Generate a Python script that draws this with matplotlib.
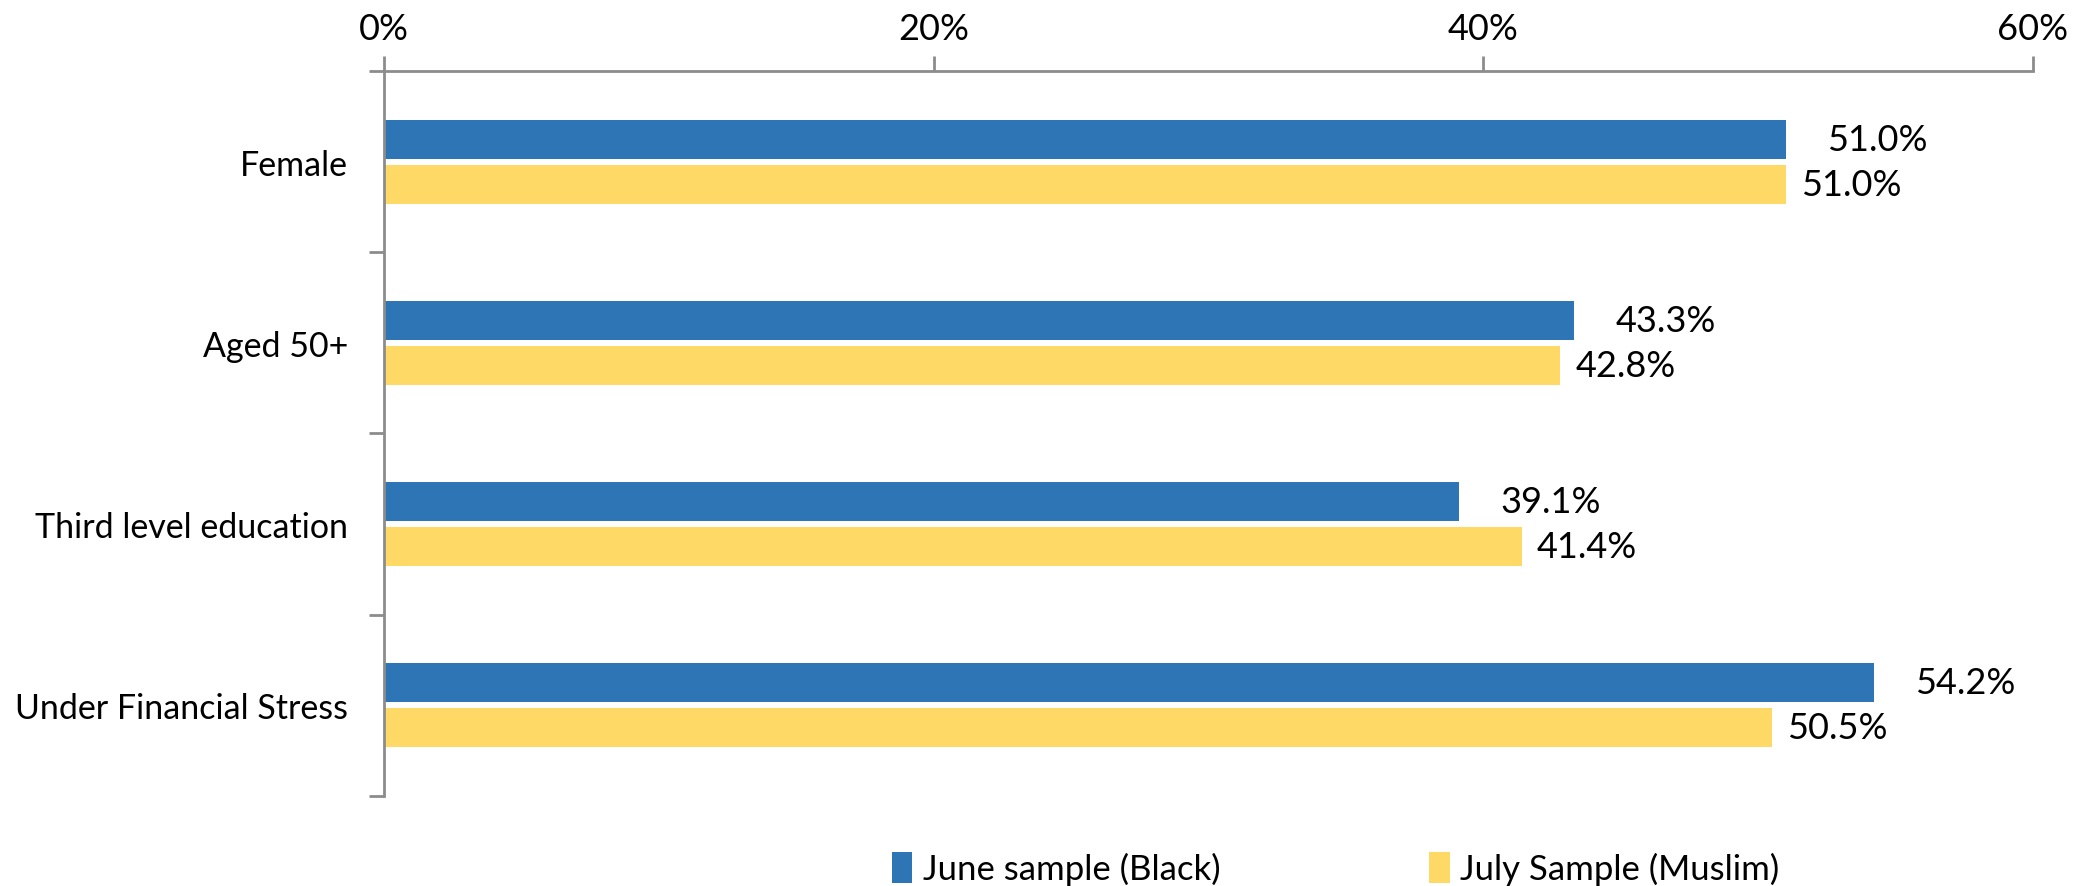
import numpy as np
import matplotlib.pyplot as plt
from matplotlib.ticker import PercentFormatter

categories = ["Female", "Aged 50+", "Third level education", "Under Financial Stress"]
june_black = [51.0, 43.3, 39.1, 54.2]
july_muslim = [51.0, 42.8, 41.4, 50.5]
series_names = ["June sample (Black)", "July Sample (Muslim)"]
x_ticks = [0, 20, 40, 60]

BLUE = "#2E75B6"
YELLOW = "#FFD966"
GREY = "#8C8C8C"

plt.rcParams["font.family"] = ["Lato", "DejaVu Sans"]

fig = plt.figure(figsize=(20.77, 8.87), dpi=100)
ax = fig.add_axes([0.1849, 0.1015, 0.7939, 0.8173])

y = np.arange(len(categories))
h = 0.215
off = 0.124
b1 = ax.barh(y - off, june_black, height=h, color=BLUE, label=series_names[0])
b2 = ax.barh(y + off, july_muslim, height=h, color=YELLOW, label=series_names[1])

for yy, v in zip(y - off, june_black):
    ax.annotate(f"{v:.1f}%", (v, yy), xytext=(30, 0), textcoords="offset points",
                va="center", ha="left", fontsize=26)
for yy, v in zip(y + off, july_muslim):
    ax.annotate(f"{v:.1f}%", (v, yy), xytext=(11, 0), textcoords="offset points",
                va="center", ha="left", fontsize=26)

ax.set_xlim(0, 60)
ax.set_ylim(len(categories) - 0.5, -0.5)
ax.set_xticks(x_ticks)
ax.xaxis.set_major_formatter(PercentFormatter(decimals=0))
ax.xaxis.tick_top()

# category labels sit at the centre, tick marks between categories
ax.set_yticks(np.arange(len(categories) + 1) - 0.5)
ax.set_yticklabels([])
ax.set_yticks(y, minor=True)
ax.set_yticklabels(categories, minor=True)
ax.tick_params(axis="y", which="minor", length=0, pad=26, labelsize=24.5)
ax.tick_params(axis="y", which="major", length=11, width=2, color=GREY, direction="out")
ax.tick_params(axis="x", length=11, width=2, color=GREY, direction="out", pad=8, labelsize=26)

for s in ["right", "bottom"]:
    ax.spines[s].set_visible(False)
for s in ["left", "top"]:
    ax.spines[s].set_color(GREY)
    ax.spines[s].set_linewidth(2)

fig.legend(handles=[b1, b2], loc="center", bbox_to_anchor=(0.643, 0.02), ncol=2,
           frameon=False, fontsize=25, handlelength=0.6, handleheight=1.0,
           handletextpad=0.3, columnspacing=6.0)

fig.savefig("out.png", dpi=100)
